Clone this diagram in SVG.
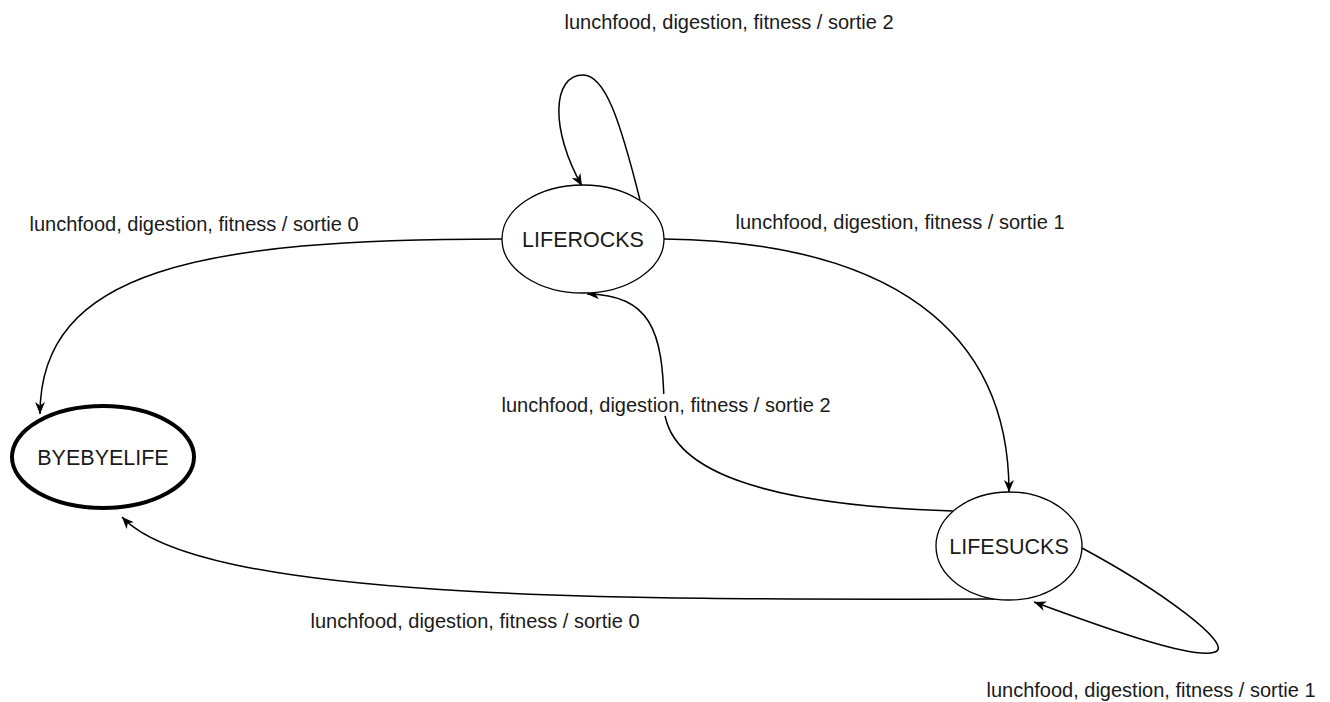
<svg xmlns="http://www.w3.org/2000/svg" width="1330" height="702" viewBox="0 0 1330 702">
<style>
  .node { fill: #ffffff; stroke: #000000; stroke-width: 1.3; }
  .final { stroke-width: 4; }
  .nlabel { font-family: "Liberation Sans", Arial, sans-serif; font-size: 21.5px; fill: #1a1a1a; text-anchor: middle; }
  .elabel { font-family: "Liberation Sans", Arial, sans-serif; font-size: 20px; fill: #1a1a1a; text-anchor: middle; }
  .edge { fill: none; stroke: #000000; stroke-width: 1.5; marker-end: url(#arrow); }
  .bg { fill: #ffffff; }
</style>
<defs>
  <marker id="arrow" markerUnits="userSpaceOnUse" markerWidth="14" markerHeight="12" refX="12" refY="5" orient="auto">
    <path d="M0,0 L12,5 L0,10 L3.5,5 Z" fill="#000000"/>
  </marker>
</defs>
<rect width="1330" height="702" fill="#ffffff"/>

<g id="connectors">
  <g id="e-rocks-self">
    <path class="edge" d="M 640 200 C 620 120, 605 75, 583 75 C 552 75, 550 130, 582 186"/>
    <text class="elabel" x="729" y="29">lunchfood, digestion, fitness / sortie 2</text>
  </g>
  <g id="e-rocks-bye">
    <path class="edge" d="M 502 239 C 200 239, 40 270, 40 414"/>
    <text class="elabel" x="194" y="231">lunchfood, digestion, fitness / sortie 0</text>
  </g>
  <g id="e-rocks-sucks">
    <path class="edge" d="M 664 239 C 890 242, 1009 330, 1009 492"/>
    <text class="elabel" x="900" y="229">lunchfood, digestion, fitness / sortie 1</text>
  </g>
  <g id="e-sucks-rocks">
    <path class="edge" d="M 953 511 C 760 505, 665 470, 664 405 C 663 330, 650 295, 587 294"/>
    <rect class="bg" x="500" y="394" width="332" height="22"/>
    <text class="elabel" x="666" y="412">lunchfood, digestion, fitness / sortie 2</text>
  </g>
  <g id="e-sucks-self">
    <path class="edge" d="M 1082 548 C 1160 590, 1235 645, 1215 652 C 1195 660, 1110 630, 1034 602"/>
    <text class="elabel" x="1151" y="697">lunchfood, digestion, fitness / sortie 1</text>
  </g>
  <g id="e-sucks-bye">
    <path class="edge" d="M 995 599 C 600 600, 200 600, 122 517"/>
    <text class="elabel" x="475" y="628">lunchfood, digestion, fitness / sortie 0</text>
  </g>
</g>

<g id="node-liferocks">
  <ellipse class="node" cx="583" cy="239" rx="81" ry="54"/>
  <text class="nlabel" x="583" y="247">LIFEROCKS</text>
</g>
<g id="node-byebyelife">
  <ellipse class="node final" cx="103" cy="457" rx="91" ry="51"/>
  <text class="nlabel" x="103" y="465">BYEBYELIFE</text>
</g>
<g id="node-lifesucks">
  <ellipse class="node" cx="1009" cy="546" rx="73" ry="54"/>
  <text class="nlabel" x="1009" y="554">LIFESUCKS</text>
</g>
</svg>
